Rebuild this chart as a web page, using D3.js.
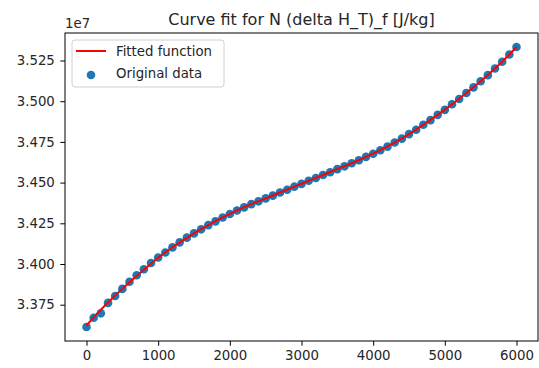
<!DOCTYPE html>
<html>
<head>
<meta charset="utf-8">
<script src="https://cdn.jsdelivr.net/npm/d3@7"></script>
<style>
  html, body { margin: 0; padding: 0; background: #fff; }
  text { font-family: "DejaVu Sans", sans-serif; }
</style>
</head>
<body>
<svg id="chart" width="539" height="368"></svg>
<script>
// ---- data (values in units of 1e7 J/kg) ----
const xValues = [
  0, 100, 200, 300, 400, 500, 600, 700, 800, 900,
  1000, 1100, 1200, 1300, 1400, 1500, 1600, 1700, 1800, 1900,
  2000, 2100, 2200, 2300, 2400, 2500, 2600, 2700, 2800, 2900,
  3000, 3100, 3200, 3300, 3400, 3500, 3600, 3700, 3800, 3900,
  4000, 4100, 4200, 4300, 4400, 4500, 4600, 4700, 4800, 4900,
  5000, 5100, 5200, 5300, 5400, 5500, 5600, 5700, 5800, 5900, 6000
];
const originalData = [
  3.3613, 3.3670, 3.3697, 3.3761, 3.3803, 3.3847, 3.3891, 3.3931, 3.3968, 3.4006,
  3.4040, 3.4071, 3.4102, 3.4133, 3.4162, 3.4188, 3.4213, 3.4239, 3.4262, 3.4286,
  3.4307, 3.4329, 3.4348, 3.4368, 3.4385, 3.4403, 3.4420, 3.4439, 3.4456, 3.4475,
  3.4492, 3.4511, 3.4528, 3.4547, 3.4564, 3.4583, 3.4600, 3.4619, 3.4637, 3.4658,
  3.4677, 3.4699, 3.4721, 3.4746, 3.4770, 3.4798, 3.4825, 3.4855, 3.4884, 3.4916,
  3.4947, 3.4981, 3.5014, 3.5050, 3.5085, 3.5123, 3.5160, 3.5201, 3.5242, 3.5287, 3.5333
];
const fittedValues = [
  3.3622, 3.3672, 3.3719, 3.3764, 3.3807, 3.3848, 3.3888, 3.3927, 3.3965, 3.4002,
  3.4038, 3.4072, 3.4103, 3.4133, 3.4161, 3.4188, 3.4214, 3.4239, 3.4263, 3.4286,
  3.4308, 3.4329, 3.4349, 3.4368, 3.4386, 3.4403, 3.4421, 3.4439, 3.4457, 3.4475,
  3.4493, 3.4511, 3.4529, 3.4547, 3.4565, 3.4583, 3.4601, 3.4619, 3.4638, 3.4658,
  3.4678, 3.4699, 3.4722, 3.4746, 3.4771, 3.4798, 3.4826, 3.4855, 3.4885, 3.4916,
  3.4948, 3.4981, 3.5015, 3.5050, 3.5086, 3.5123, 3.5161, 3.5201, 3.5243, 3.5287, 3.5333
];
const xTicks = [0, 1000, 2000, 3000, 4000, 5000, 6000];
const yTicks = [3.375, 3.400, 3.425, 3.450, 3.475, 3.500, 3.525];
const titleText = "Curve fit for N (delta H_T)_f [J/kg]";
const offsetText = "1e7";
const legendLabels = ["Fitted function", "Original data"];

// ---- layout ----
const svg = d3.select("#chart");
const plot = { left: 65, right: 538, top: 33, bottom: 341 };

const xMin = d3.min(xValues), xMax = d3.max(xValues);
const xPad = (xMax - xMin) * 0.05;
const x = d3.scaleLinear().domain([xMin - xPad, xMax + xPad]).range([plot.left, plot.right]);

const yAll = originalData.concat(fittedValues);
const yMin = d3.min(yAll), yMax = d3.max(yAll);
const yPad = (yMax - yMin) * 0.05;
const y = d3.scaleLinear().domain([yMin - yPad, yMax + yPad]).range([plot.bottom, plot.top]);

const blue = "#1f77b4";
const red = "#ff0000";

// scatter points
svg.append("g")
  .selectAll("circle")
  .data(xValues.map((d, i) => [d, originalData[i]]))
  .join("circle")
  .attr("cx", d => x(d[0]))
  .attr("cy", d => y(d[1]))
  .attr("r", 4.3)
  .attr("fill", blue);

// fitted line
svg.append("path")
  .datum(xValues.map((d, i) => [d, fittedValues[i]]))
  .attr("fill", "none")
  .attr("stroke", red)
  .attr("stroke-width", 2)
  .attr("d", d3.line().x(d => x(d[0])).y(d => y(d[1])));

// axes
const xAxis = d3.axisBottom(x).tickValues(xTicks).tickFormat(d3.format("d")).tickSizeOuter(0).tickSize(4.7).tickPadding(4.5);
const yAxis = d3.axisLeft(y).tickValues(yTicks).tickFormat(d3.format(".3f")).tickSizeOuter(0).tickSize(4.7).tickPadding(5.5);

const gx = svg.append("g").attr("transform", `translate(0,${plot.bottom})`).call(xAxis);
const gy = svg.append("g").attr("transform", `translate(${plot.left},0)`).call(yAxis);
[gx, gy].forEach(g => {
  g.select(".domain").remove();
  g.selectAll(".tick line").attr("stroke", "#000").attr("stroke-width", 1);
  g.selectAll(".tick text").attr("fill", "#262626").style("font-size", "13.3px").style("font-family", "DejaVu Sans");
});

// frame
svg.append("rect")
  .attr("x", plot.left).attr("y", plot.top)
  .attr("width", plot.right - plot.left).attr("height", plot.bottom - plot.top)
  .attr("fill", "none").attr("stroke", "#000").attr("stroke-width", 1);

// offset text
svg.append("text")
  .attr("x", plot.left).attr("y", 28)
  .attr("fill", "#262626")
  .style("font-size", "13.3px")
  .text(offsetText);

// title
svg.append("text")
  .attr("x", (plot.left + plot.right) / 2).attr("y", 25)
  .attr("text-anchor", "middle")
  .attr("fill", "#262626")
  .style("font-size", "16px")
  .text(titleText);

// legend
const lg = svg.append("g");
lg.append("rect")
  .attr("x", 72).attr("y", 40).attr("width", 152).attr("height", 47)
  .attr("rx", 3).attr("ry", 3)
  .attr("fill", "#fff").attr("fill-opacity", 0.8)
  .attr("stroke", "#d0d0d0").attr("stroke-width", 1);
lg.append("line")
  .attr("x1", 76).attr("x2", 106).attr("y1", 51).attr("y2", 51)
  .attr("stroke", red).attr("stroke-width", 2);
lg.append("circle")
  .attr("cx", 91).attr("cy", 75).attr("r", 4.3).attr("fill", blue);
lg.selectAll("text.lbl")
  .data(legendLabels)
  .join("text")
  .attr("class", "lbl")
  .attr("x", 116)
  .attr("y", (d, i) => 56 + i * 22)
  .attr("fill", "#262626")
  .style("font-size", "13.3px")
  .text(d => d);
</script>
</body>
</html>
